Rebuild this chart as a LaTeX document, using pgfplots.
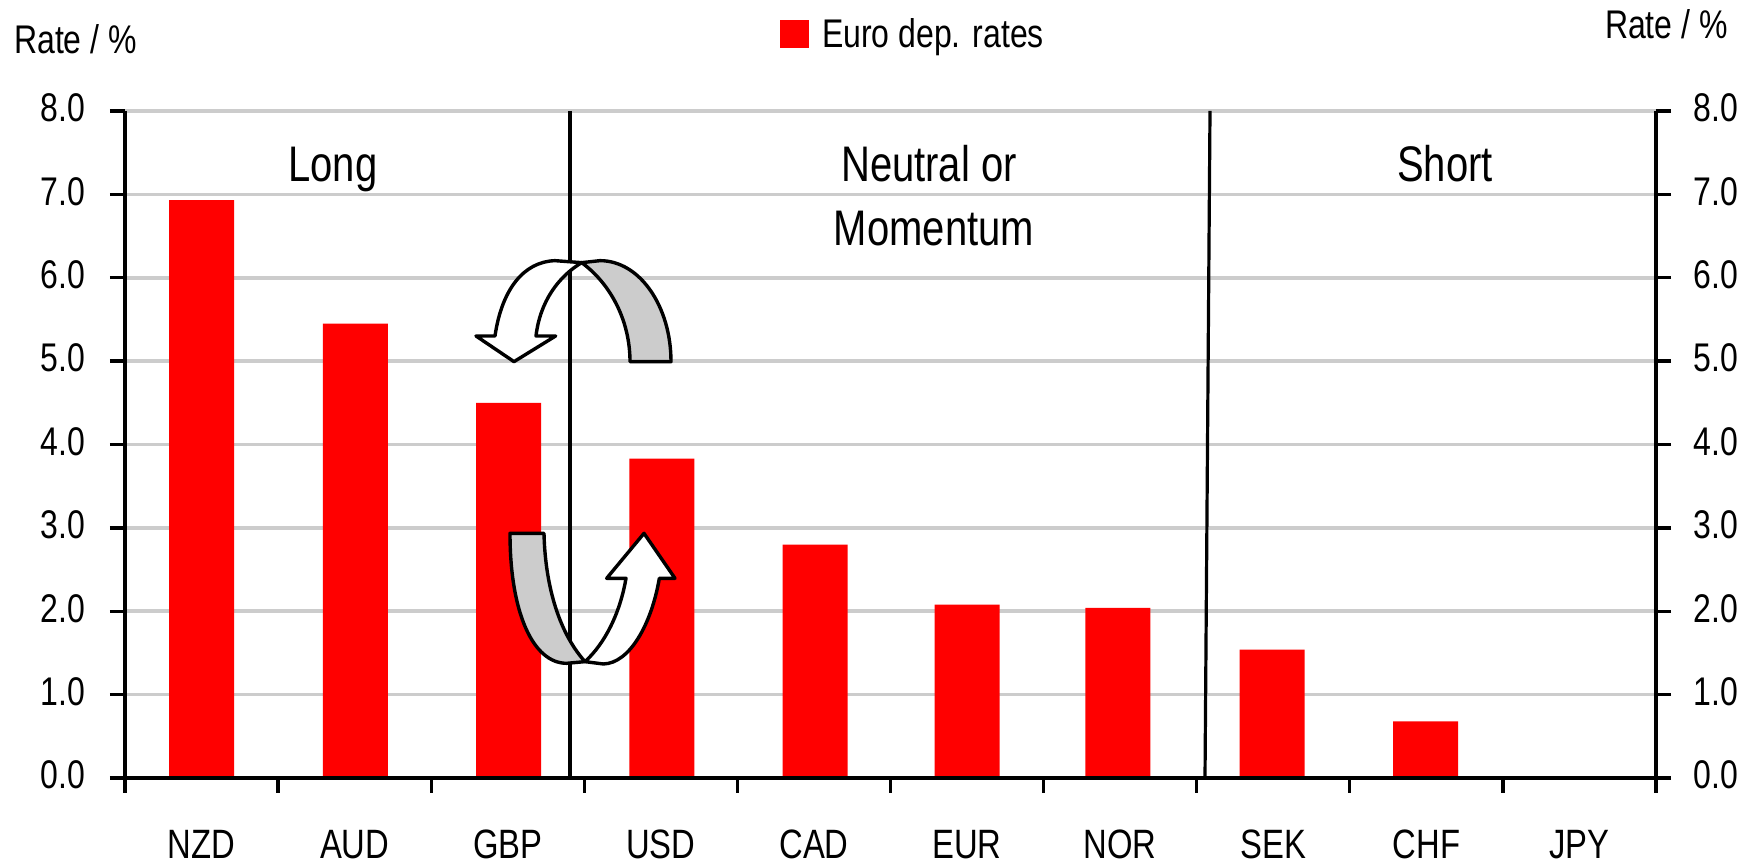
\documentclass[border=0pt]{standalone}
\usepackage{pgfplots}
\pgfplotsset{compat=1.18}
\usepackage{fontspec}
\setmainfont[FakeStretch=0.8]{Liberation Sans}
\definecolor{gridgray}{HTML}{CCCCCC}
\newcommand{\fsA}{\fontsize{40}{44}\selectfont}
\newcommand{\fsB}{\fontsize{50}{54}\selectfont}
\newcommand{\fsC}{\fontsize{41}{45}\selectfont}
\pgfplotsset{base/.style={
  at={(125pt,88pt)}, anchor=south west, scale only axis,
  width=1531pt, height=667pt,
  xmin=0, xmax=10, ymin=0, ymax=8,
  ytick={0,1,...,8},
  tick align=outside, major tick length=15pt,
  every tick/.style={black,line width=3.3pt},
  axis line style={black,line width=3.6pt,-},
  /pgf/number format/assume math mode=true,
  /pgf/number format/fixed,/pgf/number format/fixed zerofill,/pgf/number format/precision=1,
  tick label style={font=\fsA},
}}
\begin{document}
\begin{tikzpicture}[x=1pt,y=1pt]
\useasboundingbox (0,0) rectangle (1753,866);
\begin{axis}[base,
  axis y line*=left, axis x line*=bottom,
  yticklabel style={xshift=-21pt,yshift=3pt},
  ymajorgrids, grid style={gridgray,line width=3.6pt},
  xtick={0,1,...,10}, xticklabels={},
  extra x ticks={0.5,1.5,2.5,3.5,4.5,5.5,6.5,7.5,8.5,9.5},
  extra x tick labels={NZD,AUD,GBP,USD,CAD,EUR,NOR,SEK,CHF,JPY},
  extra x tick style={major tick length=0pt, xmajorgrids=false,
    tick style={draw=none},
    xticklabel style={font=\fsC,inner sep=0pt,yshift=-52pt}},
  legend style={at={(0.4278,1.1156)},anchor=west,draw=none,fill=none,font=\fsA,inner sep=0pt},
  legend cell align=left,
  ]
\addplot[ybar,bar width=65pt,fill=red,draw=none,ybar legend,
  legend image code/.code={\fill[red] (0pt,-14pt) rectangle (29pt,14pt);\path (40pt,0pt);}]
 coordinates {(0.5,6.93)(1.505,5.45)(2.505,4.5)(3.507,3.83)(4.507,2.8)(5.5,2.08)(6.485,2.04)(7.493,1.54)(8.495,0.68)(9.5,0)};
\addlegendentry{Euro dep. rates}
\end{axis}
\begin{axis}[base,
  axis y line*=right, axis x line*=bottom,
  yticklabel style={xshift=19pt,yshift=3pt},
  xtick=\empty,
  ]
\end{axis}
% dividers
\draw[black,line width=3.2pt] (570,755) -- (570,88);
\draw[black,line width=3.2pt] (1210,755) -- (1205,88);
% labels
\node[anchor=west,font=\fsA,inner sep=0pt] at (14,827) {Rate / \%};
\node[anchor=east,font=\fsA,inner sep=0pt] at (1728,842) {Rate / \%};
\node[anchor=base,font=\fsB,inner sep=0pt] at (333,684) {Long};
\node[anchor=base,font=\fsB,inner sep=0pt] at (929,684) {Neutral or};
\node[anchor=base,font=\fsB,inner sep=0pt] at (934,620) {Momentum};
\node[anchor=base,font=\fsB,inner sep=0pt] at (1445,684) {Short};
% arrows
\begin{scope}[shift={(440,646)},x=0.33333pt,y=-0.33333pt,line width=3.4pt,line join=round,draw=black]
\filldraw[fill=gridgray] (425,128) -- (480,122) .. controls (600,122) and (693,260) .. (693,425)
  -- (570,425) .. controls (570,300) and (510,190) .. (425,128) -- cycle;
\filldraw[fill=white] (425,128) -- (345,122) .. controls (250,125) and (185,210) .. (165,348)
  -- (108,348) -- (222,425) -- (347,348) -- (288,348) .. controls (300,245) and (355,170) .. (425,128) -- cycle;
\filldraw[fill=gridgray] (210,940) -- (312,940) .. controls (315,1080) and (350,1230) .. (435,1325)
  -- (380,1330) .. controls (280,1330) and (210,1180) .. (210,940) -- cycle;
\filldraw[fill=white] (435,1325) -- (490,1332) .. controls (570,1330) and (635,1210) .. (658,1075)
  -- (705,1075) -- (612,940) -- (500,1075) -- (558,1075) .. controls (540,1180) and (495,1270) .. (435,1325) -- cycle;
\end{scope}
\end{tikzpicture}
\end{document}
